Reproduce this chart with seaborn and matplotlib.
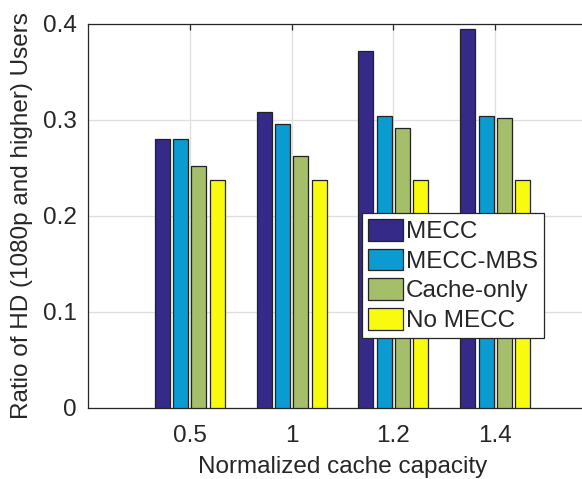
import pandas as pd
import matplotlib
matplotlib.use("Agg")
import matplotlib.pyplot as plt
import seaborn as sns

capacities = ["0.5", "1", "1.2", "1.4"]
schemes = ["MECC", "MECC-MBS", "Cache-only", "No MECC"]
mecc = [0.280, 0.308, 0.372, 0.395]
mecc_mbs = [0.280, 0.296, 0.304, 0.304]
cache_only = [0.252, 0.263, 0.292, 0.302]
no_mecc = [0.237, 0.237, 0.237, 0.237]
y_ticks = [0, 0.1, 0.2, 0.3, 0.4]
y_labels = ["0", "0.1", "0.2", "0.3", "0.4"]
colors = ["#352A87", "#0A9BD0", "#A5BE6A", "#F9FB0E"]


def main():
    sns.set_style("white")
    plt.rcParams["font.family"] = ["Liberation Sans", "DejaVu Sans"]

    rows = []
    for name, vals in zip(schemes, [mecc, mecc_mbs, cache_only, no_mecc]):
        for cap, v in zip(capacities, vals):
            rows.append({"capacity": cap, "scheme": name, "ratio": v})
    df = pd.DataFrame(rows)

    fig = plt.figure(figsize=(5.82, 4.79), dpi=100)
    ax = fig.add_axes([88 / 582, 1 - 408 / 479, 509 / 582, 384 / 479])

    sns.barplot(data=df, x="capacity", y="ratio", hue="scheme", order=capacities,
                hue_order=schemes, palette=colors, width=0.72, gap=0.18,
                edgecolor="#222222", linewidth=0.9, saturation=1, ax=ax, zorder=3)

    ax.set_xlim(-1, 4)
    ax.set_ylim(0, 0.4)
    ax.set_yticks(y_ticks)
    ax.set_yticklabels(y_labels)
    ax.grid(True, color="#DEDEDE", linewidth=0.9, zorder=0)
    ax.set_axisbelow(True)
    for s in ax.spines.values():
        s.set_color("#262626")
        s.set_linewidth(0.9)
    ax.tick_params(direction="in", top=True, right=True, length=4, width=0.9,
                   labelsize=17.5, colors="#262626")
    ax.tick_params(axis="x", pad=12)
    ax.tick_params(axis="y", pad=8)

    ax.set_xlabel("Normalized cache capacity", fontsize=17.5, color="#262626", labelpad=6.5)
    ax.set_ylabel("Ratio of HD (1080p and higher) Users", fontsize=17.5, color="#262626", labelpad=7)

    leg = ax.legend(loc="lower left", bbox_to_anchor=(0.538, 0.182), fontsize=17.5,
                    frameon=True, fancybox=False, edgecolor="#262626", framealpha=1,
                    handlelength=1.45, handleheight=1.0, handletextpad=0.12,
                    labelspacing=0.22, borderpad=0.25, borderaxespad=0)
    leg.get_frame().set_linewidth(0.9)
    leg.set_zorder(5)

    fig.savefig("out.png", dpi=100)


if __name__ == "__main__":
    main()
